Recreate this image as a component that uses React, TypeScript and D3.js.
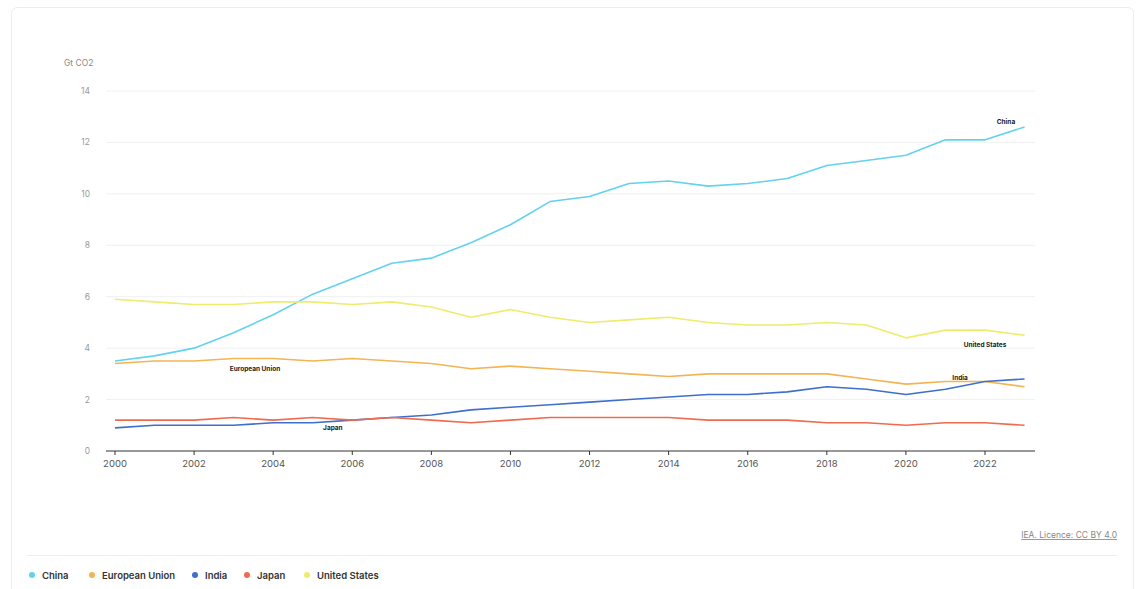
import React from "react";
import * as d3 from "d3";

const years = d3.range(2000, 2024);
const china = [3.5, 3.7, 4.0, 4.6, 5.3, 6.1, 6.7, 7.3, 7.5, 8.1, 8.8, 9.7, 9.9, 10.4, 10.5, 10.3, 10.4, 10.6, 11.1, 11.3, 11.5, 12.1, 12.1, 12.6];
const eu = [3.4, 3.5, 3.5, 3.6, 3.6, 3.5, 3.6, 3.5, 3.4, 3.2, 3.3, 3.2, 3.1, 3.0, 2.9, 3.0, 3.0, 3.0, 3.0, 2.8, 2.6, 2.7, 2.7, 2.5];
const india = [0.9, 1.0, 1.0, 1.0, 1.1, 1.1, 1.2, 1.3, 1.4, 1.6, 1.7, 1.8, 1.9, 2.0, 2.1, 2.2, 2.2, 2.3, 2.5, 2.4, 2.2, 2.4, 2.7, 2.8];
const japan = [1.2, 1.2, 1.2, 1.3, 1.2, 1.3, 1.2, 1.3, 1.2, 1.1, 1.2, 1.3, 1.3, 1.3, 1.3, 1.2, 1.2, 1.2, 1.1, 1.1, 1.0, 1.1, 1.1, 1.0];
const us = [5.9, 5.8, 5.7, 5.7, 5.8, 5.8, 5.7, 5.8, 5.6, 5.2, 5.5, 5.2, 5.0, 5.1, 5.2, 5.0, 4.9, 4.9, 5.0, 4.9, 4.4, 4.7, 4.7, 4.5];
const yTicks = [0, 2, 4, 6, 8, 10, 12, 14];
const xTicks = [2000, 2002, 2004, 2006, 2008, 2010, 2012, 2014, 2016, 2018, 2020, 2022];

const series = [
  { name: "China", values: china, color: "#62d2ee" },
  { name: "European Union", values: eu, color: "#f3b453" },
  { name: "India", values: india, color: "#3f6fcc" },
  { name: "Japan", values: japan, color: "#ef6b4f" },
  { name: "United States", values: us, color: "#eeec6c" },
];

const labels = [
  { name: "China", x: 2022.53, y: 12.7 },
  { name: "United States", x: 2022.0, y: 4.06 },
  { name: "European Union", x: 2003.54, y: 3.13 },
  { name: "India", x: 2021.37, y: 2.76 },
  { name: "Japan", x: 2005.51, y: 0.8 },
];

const font = "Inter, 'Open Sans', sans-serif";

export default function App() {
  const W = 1141, H = 589;
  const x = d3.scaleLinear().domain([2000, 2022]).range([115, 985]);
  const y = d3.scaleLinear().domain([0, 14]).range([451, 91]);
  const line = d3
    .line<number>()
    .x((_, i) => x(years[i]))
    .y((d) => y(d));

  const legendX = [32, 92, 195, 247, 307];

  return (
    <svg width={W} height={H} style={{ position: "absolute", left: 0, top: 0 }} fontFamily={font}>
      <rect x={0} y={0} width={W} height={H} fill="#fff" />
      <rect x={11.5} y={7.5} width={1122} height={600} rx={6} fill="#fff" stroke="#ececec" />
      <text x={64} y={66} fontSize={8.5} fill="#888">Gt CO2</text>
      {yTicks.map((t) => (
        <g key={t}>
          {t > 0 && <line x1={106} x2={1035} y1={y(t)} y2={y(t)} stroke="#f0f0f0" strokeWidth={1} />}
          <text x={90} y={y(t) + 3} fontSize={8.5} fill="#999" textAnchor="end">{t}</text>
        </g>
      ))}
      <line x1={106} x2={1035} y1={y(0)} y2={y(0)} stroke="#333" strokeWidth={1.2} />
      {xTicks.map((t) => (
        <g key={t}>
          <line x1={x(t)} x2={x(t)} y1={y(0)} y2={y(0) + 4} stroke="#333" strokeWidth={1} />
          <text x={x(t)} y={y(0) + 16} fontSize={9.5} fill="#555" textAnchor="middle">{t}</text>
        </g>
      ))}
      {series.map((s) => (
        <path key={s.name} d={line(s.values) || ""} fill="none" stroke={s.color} strokeWidth={1.6} strokeLinejoin="round" />
      ))}
      {labels.map((l) => (
        <text key={l.name} x={x(l.x)} y={y(l.y)} fontSize={6.5} fontWeight={700} fill="#222" textAnchor="middle">{l.name}</text>
      ))}
      <text x={1117} y={538} fontSize={8.5} fill="#888" textAnchor="end" textDecoration="underline">IEA. Licence: CC BY 4.0</text>
      <line x1={27} x2={1117} y1={555.5} y2={555.5} stroke="#eeeeee" />
      {series.map((s, i) => (
        <g key={s.name}>
          <circle cx={legendX[i]} cy={575} r={3} fill={s.color} />
          <text x={legendX[i] + 10} y={578.5} fontSize={9.5} fontWeight={600} fill="#333">{s.name}</text>
        </g>
      ))}
    </svg>
  );
}
